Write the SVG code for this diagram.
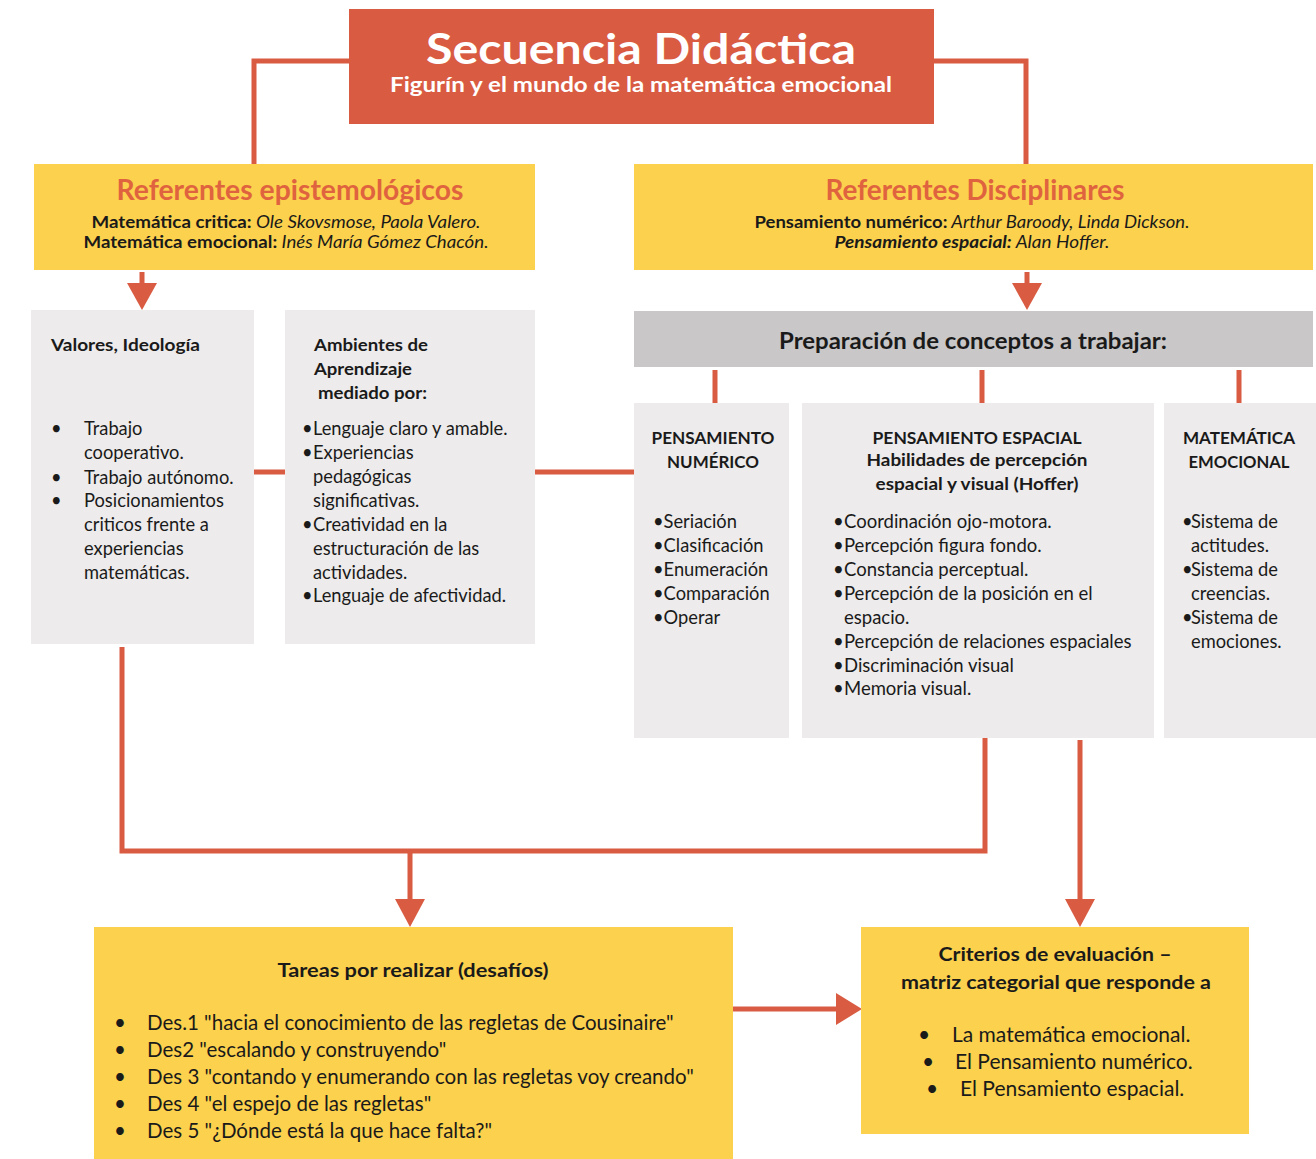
<svg xmlns="http://www.w3.org/2000/svg" width="1316" height="1159" viewBox="0 0 1316 1159">
<style>
text{font-family:Lato,"Open Sans","Liberation Sans",sans-serif;fill:#1a1a1a}
.yel{fill:#FCD14D}
.gry{fill:#EDEBEB}
.hdr{fill:#C9C7C7}
.red{fill:#D95B42}
.ln{stroke:#D95B42;stroke-width:5;fill:none}
.b{font-weight:bold}
.i{font-style:italic}
.ttl{font-size:28px;font-weight:bold;fill:#E0633F}
.sm{font-size:17px}
.hd{font-size:17px;font-weight:bold}
.bd{font-size:18.3px}
.c{text-anchor:middle}
</style>
<rect width="1316" height="1159" fill="#fff"/>

<g id="connectors">
<polyline class="ln" points="349,61 254,61 254,165"/>
<polyline class="ln" points="934,61 1026,61 1026,165"/>
<line class="ln" x1="142" y1="272" x2="142" y2="285"/>
<polygon points="127,283 157,283 142,310" fill="#D95B42"/>
<line class="ln" x1="1027" y1="272" x2="1027" y2="285"/>
<polygon points="1012,283 1042,283 1027,310" fill="#D95B42"/>
<line class="ln" x1="254" y1="472" x2="285" y2="472"/>
<line class="ln" x1="535" y1="472" x2="634" y2="472"/>
<line class="ln" x1="715" y1="370" x2="715" y2="403"/>
<line class="ln" x1="982" y1="370" x2="982" y2="403"/>
<line class="ln" x1="1239" y1="370" x2="1239" y2="403"/>
<polyline class="ln" points="122,647 122,851 985,851 985,738"/>
<line class="ln" x1="410" y1="851" x2="410" y2="902"/>
<polygon points="395,899 425,899 410,927" fill="#D95B42"/>
<line class="ln" x1="1080" y1="740" x2="1080" y2="902"/>
<polygon points="1065,899 1095,899 1080,927" fill="#D95B42"/>
<line class="ln" x1="733" y1="1009" x2="838" y2="1009"/>
<polygon points="836,993 836,1025 862,1009" fill="#D95B42"/>
</g>

<g id="title">
<rect class="red" x="349" y="9" width="585" height="115"/>
<text x="641" y="64" class="c b" font-size="42" style="fill:#fff" textLength="430" lengthAdjust="spacingAndGlyphs">Secuencia Didáctica</text>
<text x="641" y="92" class="c b" font-size="20" style="fill:#fff" textLength="502" lengthAdjust="spacingAndGlyphs">Figurín y el mundo de la matemática emocional</text>
</g>

<g id="ref-epist">
<rect class="yel" x="34" y="164" width="501" height="106"/>
<text x="290" y="200" class="ttl c" textLength="347" lengthAdjust="spacingAndGlyphs">Referentes epistemológicos</text>
<text x="286" y="228" class="sm c" textLength="389" lengthAdjust="spacingAndGlyphs"><tspan class="b">Matemática critica:</tspan><tspan class="i"> Ole Skovsmose, Paola Valero.</tspan></text>
<text x="286" y="248" class="sm c" textLength="405" lengthAdjust="spacingAndGlyphs"><tspan class="b">Matemática emocional:</tspan><tspan class="i">  Inés María Gómez Chacón.</tspan></text>
</g>

<g id="ref-disc">
<rect class="yel" x="634" y="164" width="679" height="106"/>
<text x="975" y="200" class="ttl c" textLength="299" lengthAdjust="spacingAndGlyphs">Referentes Disciplinares</text>
<text x="972" y="228" class="sm c" textLength="435" lengthAdjust="spacingAndGlyphs"><tspan class="b">Pensamiento numérico:</tspan><tspan class="i"> Arthur Baroody, Linda Dickson.</tspan></text>
<text x="972" y="248" class="sm c" textLength="275" lengthAdjust="spacingAndGlyphs"><tspan class="b i">Pensamiento espacial:</tspan><tspan class="i"> Alan Hoffer.</tspan></text>
</g>

<g id="valores">
<rect class="gry" x="31" y="310" width="223" height="334"/>
<text x="51" y="351" class="hd" textLength="149" lengthAdjust="spacingAndGlyphs">Valores, Ideología</text>
<g class="bd">
<text x="51" y="435">•</text><text x="84" y="435">Trabajo</text>
<text x="84" y="459">cooperativo.</text>
<text x="51" y="484">•</text><text x="84" y="484">Trabajo autónomo.</text>
<text x="51" y="507">•</text><text x="84" y="507">Posicionamientos</text>
<text x="84" y="531">criticos frente a</text>
<text x="84" y="555">experiencias</text>
<text x="84" y="579">matemáticas.</text>
</g>
</g>

<g id="ambientes">
<rect class="gry" x="285" y="310" width="250" height="334"/>
<text x="314" y="351" class="hd" textLength="114" lengthAdjust="spacingAndGlyphs">Ambientes de</text>
<text x="314" y="375" class="hd" textLength="98" lengthAdjust="spacingAndGlyphs">Aprendizaje</text>
<text x="318" y="399" class="hd" textLength="109" lengthAdjust="spacingAndGlyphs">mediado por:</text>
<g class="bd">
<text x="302" y="435">•</text><text x="313" y="435">Lenguaje claro y amable.</text>
<text x="302" y="459">•</text><text x="313" y="459">Experiencias</text>
<text x="313" y="483">pedagógicas</text>
<text x="313" y="507">significativas.</text>
<text x="302" y="531">•</text><text x="313" y="531">Creatividad en la</text>
<text x="313" y="555">estructuración de las</text>
<text x="313" y="579">actividades.</text>
<text x="302" y="602">•</text><text x="313" y="602">Lenguaje de afectividad.</text>
</g>
</g>

<g id="preparacion">
<rect class="hdr" x="634" y="311" width="679" height="56"/>
<text x="973" y="349" class="c b" font-size="23" textLength="388" lengthAdjust="spacingAndGlyphs">Preparación de conceptos a trabajar:</text>
</g>

<g id="numerico">
<rect class="gry" x="634" y="403" width="155" height="335"/>
<text x="713" y="444" class="hd c" textLength="123" lengthAdjust="spacingAndGlyphs">PENSAMIENTO</text>
<text x="713" y="468" class="hd c" textLength="92" lengthAdjust="spacingAndGlyphs">NUMÉRICO</text>
<g class="bd">
<text x="653" y="528">•Seriación</text>
<text x="653" y="552">•Clasificación</text>
<text x="653" y="576">•Enumeración</text>
<text x="653" y="600">•Comparación</text>
<text x="653" y="624">•Operar</text>
</g>
</g>

<g id="espacial">
<rect class="gry" x="802" y="403" width="352" height="335"/>
<text x="977" y="444" class="hd c" textLength="209" lengthAdjust="spacingAndGlyphs">PENSAMIENTO ESPACIAL</text>
<text x="977" y="466" class="hd c" textLength="221" lengthAdjust="spacingAndGlyphs">Habilidades de percepción</text>
<text x="977" y="490" class="hd c" textLength="203" lengthAdjust="spacingAndGlyphs">espacial y visual (Hoffer)</text>
<g font-size="18.5">
<text x="833" y="528">•</text><text x="844" y="528">Coordinación ojo-motora.</text>
<text x="833" y="552">•</text><text x="844" y="552">Percepción figura fondo.</text>
<text x="833" y="576">•</text><text x="844" y="576">Constancia perceptual.</text>
<text x="833" y="600">•</text><text x="844" y="600">Percepción de la posición en el</text>
<text x="844" y="624">espacio.</text>
<text x="833" y="648">•</text><text x="844" y="648">Percepción de relaciones espaciales</text>
<text x="833" y="672">•</text><text x="844" y="672">Discriminación visual</text>
<text x="833" y="695">•</text><text x="844" y="695">Memoria visual.</text>
</g>
</g>

<g id="emocional">
<rect class="gry" x="1164" y="403" width="152" height="335"/>
<text x="1239" y="444" class="hd c" textLength="112" lengthAdjust="spacingAndGlyphs">MATEMÁTICA</text>
<text x="1239" y="468" class="hd c" textLength="101" lengthAdjust="spacingAndGlyphs">EMOCIONAL</text>
<g class="bd">
<text x="1182" y="528">•</text><text x="1191" y="528">Sistema de</text>
<text x="1191" y="552">actitudes.</text>
<text x="1182" y="576">•</text><text x="1191" y="576">Sistema de</text>
<text x="1191" y="600">creencias.</text>
<text x="1182" y="624">•</text><text x="1191" y="624">Sistema de</text>
<text x="1191" y="648">emociones.</text>
</g>
</g>

<g id="tareas">
<rect class="yel" x="94" y="927" width="639" height="232"/>
<text x="413" y="977" class="c b" font-size="19" textLength="271" lengthAdjust="spacingAndGlyphs">Tareas por realizar (desafíos)</text>
<g font-size="20.5">
<text x="114" y="1030">•</text><text x="147" y="1030">Des.1 "hacia el conocimiento de las regletas de Cousinaire"</text>
<text x="114" y="1057">•</text><text x="147" y="1057">Des2 "escalando y construyendo"</text>
<text x="114" y="1084">•</text><text x="147" y="1084">Des 3 "contando y enumerando con las regletas voy creando"</text>
<text x="114" y="1111">•</text><text x="147" y="1111">Des 4 "el espejo de las regletas"</text>
<text x="114" y="1138">•</text><text x="147" y="1138">Des 5 "¿Dónde está la que hace falta?"</text>
</g>
</g>

<g id="criterios">
<rect class="yel" x="861" y="927" width="388" height="207"/>
<text x="1055" y="961" class="c b" font-size="19" textLength="233" lengthAdjust="spacingAndGlyphs">Criterios de evaluación –</text>
<text x="1056" y="989" class="c b" font-size="19" textLength="310" lengthAdjust="spacingAndGlyphs">matriz categorial que responde a</text>
<g font-size="21">
<text x="918" y="1042">•</text><text x="952" y="1042">La matemática emocional.</text>
<text x="922" y="1069">•</text><text x="955" y="1069">El Pensamiento numérico.</text>
<text x="926" y="1096">•</text><text x="960" y="1096">El Pensamiento espacial.</text>
</g>
</g>
</svg>
